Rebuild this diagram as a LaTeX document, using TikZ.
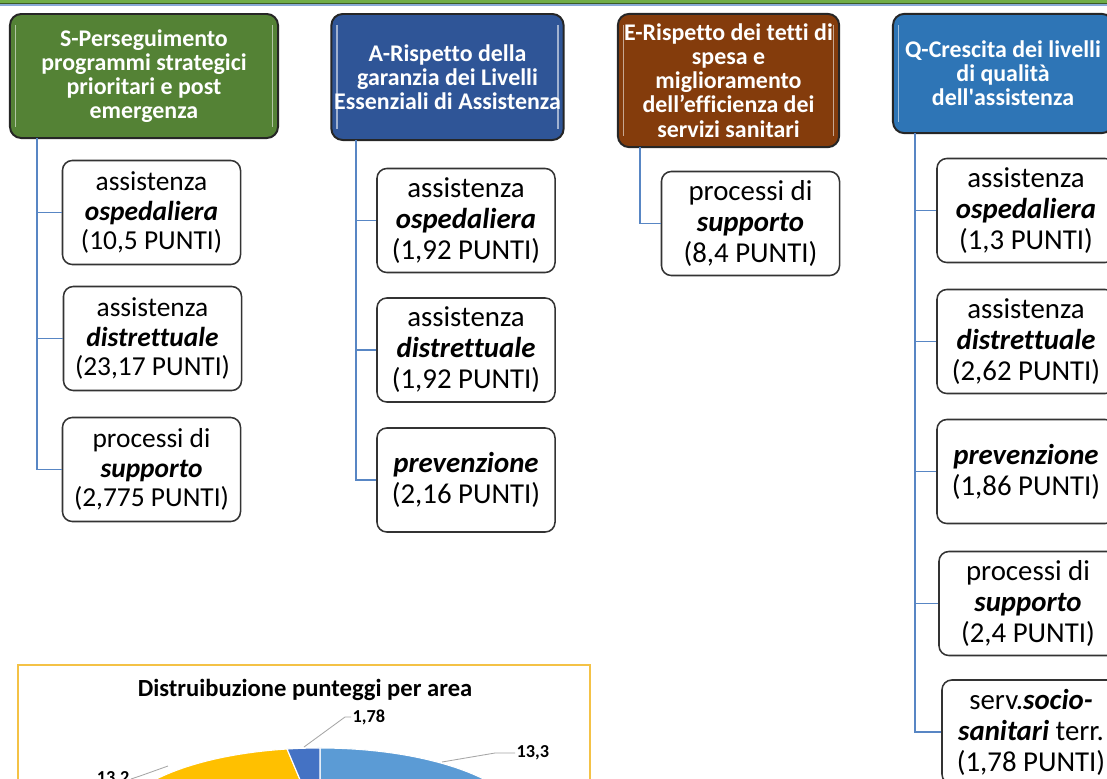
\documentclass[tikz,border=0pt]{standalone}
\usepackage{fontspec}
\setmainfont{Carlito}[Ligatures={NoCommon,NoContextual}, Contextuals={NoAlternate}]
\usetikzlibrary{positioning}

\definecolor{hdgreen}{RGB}{84,130,53}
\definecolor{hdnavy}{RGB}{47,85,151}
\definecolor{hdbrown}{RGB}{132,60,12}
\definecolor{hdblue}{RGB}{46,117,182}
\definecolor{linkblue}{RGB}{88,134,196}
\definecolor{topgreen}{RGB}{112,173,71}
\definecolor{chartgold}{RGB}{244,194,70}
\definecolor{pielight}{RGB}{91,155,213}
\definecolor{piedark}{RGB}{68,114,196}
\definecolor{pieyellow}{RGB}{255,192,0}
\definecolor{leadergray}{RGB}{166,166,166}

\newcommand{\kw}[1]{\textbf{\textit{#1}}}

\tikzset{
  headbox/.style={rectangle, rounded corners=8pt, draw=black!85, line width=1.4pt, text=white,
    font=\fontsize{17}{17.2}\selectfont\bfseries, align=center, inner sep=2pt,
    path picture={
      \draw[white,opacity=0.55,line width=1pt] ([xshift=4pt,yshift=-8pt]path picture bounding box.north west) -- ([xshift=4pt,yshift=8pt]path picture bounding box.south west);
      \draw[white,opacity=0.55,line width=1pt] ([xshift=-4pt,yshift=-8pt]path picture bounding box.north east) -- ([xshift=-4pt,yshift=8pt]path picture bounding box.south east);
    }},
  leafbox/.style={rectangle, rounded corners=7pt, draw=black!80, line width=1.1pt, fill=white, align=center,
    minimum width=4.45cm, minimum height=2.6cm, inner sep=2pt, font=\fontsize{20.5}{22}\selectfont},
  leafsmall/.style={leafbox, font=\fontsize{19.5}{21}\selectfont},
  branch/.style={linkblue, line width=1.4pt},
  leader/.style={leadergray, line width=0.6pt},
  pieslice/.style={draw=white, line width=0.8pt},
}

\begin{document}
\begin{tikzpicture}[x=0.025cm,y=-0.025cm]
\useasboundingbox (0,0) rectangle (1107,778);
\fill[topgreen] (0,0) rectangle (1107,3.5);
\draw[hdgreen!70!black, line width=0.5pt] (0,3.5) -- (1107,3.5);
\draw[linkblue!70, line width=0.8pt] (0,5) -- (1107,5);

% area headers
\node[headbox, fill=hdgreen, minimum width=6.7cm, minimum height=3.1cm] (S) at (144,76) {S-Perseguimento\\programmi strategici\\prioritari e post\\emergenza};
\node[headbox, fill=hdnavy, minimum width=5.78cm, minimum height=3.15cm] (A) at (447.5,77) {A-Rispetto della\\garanzia dei Livelli\\Essenziali di Assistenza};
\node[headbox, fill=hdbrown, minimum width=5.53cm, minimum height=3.33cm] (E) at (728.5,80.5) {E-Rispetto dei tetti di\\spesa e\\miglioramento\\dell’efficienza dei\\servizi sanitari};
\node[headbox, fill=hdblue, minimum width=5.5cm, minimum height=2.98cm] (Q) at (1003,73.5) {Q-Crescita dei livelli\\di qualità\\dell\textquotesingle assistenza};

% S
\node[leafsmall] (s1) at (151.5,212.5) {assistenza\\\kw{ospedaliera}\\(10,5 PUNTI)};
\node[leafsmall] (s2) at (152.5,338.5) {assistenza\\\kw{distrettuale}\\(23,17 PUNTI)};
\node[leafsmall] (s3) at (151.5,469.5) {processi di\\\kw{supporto}\\(2,775 PUNTI)};
\coordinate (Sroot) at (37,138);
\draw[branch] (Sroot) |- (s1.west);
\draw[branch] (Sroot) |- (s2.west);
\draw[branch] (Sroot) |- (s3.west);

% A
\node[leafbox] (a1) at (466,220.5) {assistenza\\\kw{ospedaliera}\\(1,92 PUNTI)};
\node[leafbox] (a2) at (466,350) {assistenza\\\kw{distrettuale}\\(1,92 PUNTI)};
\node[leafbox] (a3) at (466,480) {\kw{prevenzione}\\(2,16 PUNTI)};
\coordinate (Aroot) at (356,140);
\draw[branch] (Aroot) |- (a1.west);
\draw[branch] (Aroot) |- (a2.west);
\draw[branch] (Aroot) |- (a3.west);

% E
\node[leafbox] (e1) at (750.5,223.5) {processi di\\\kw{supporto}\\(8,4 PUNTI)};
\coordinate (Eroot) at (640,147);
\draw[branch] (Eroot) |- (e1.west);

% Q
\node[leafbox] (q1) at (1026,210.5) {assistenza\\\kw{ospedaliera}\\(1,3 PUNTI)};
\node[leafbox] (q2) at (1026,341.5) {assistenza\\\kw{distrettuale}\\(2,62 PUNTI)};
\node[leafbox] (q3) at (1026,471.5) {\kw{prevenzione}\\(1,86 PUNTI)};
\node[leafbox] (q4) at (1028,603.5) {processi di\\\kw{supporto}\\(2,4 PUNTI)};
\node[leafbox] (q5) at (1031,732) {serv.\kw{socio-}\\\kw{sanitari} terr.\\(1,78 PUNTI)};
\coordinate (Qroot) at (915,133);
\draw[branch] (Qroot) |- (q1.west);
\draw[branch] (Qroot) |- (q2.west);
\draw[branch] (Qroot) |- (q3.west);
\draw[branch] (Qroot) |- (q4.west);
\draw[branch] (Qroot) |- (q5.west);

% pie chart
\draw[chartgold, line width=0.8pt, fill=white] (18,665) rectangle (590,800);
\node[font=\fontsize{17.5}{20}\selectfont\bfseries] (charttitle) at (305,690) {Distruibuzione punteggi per area};
\begin{scope}[shift={(320,827)}]
\filldraw[pieslice, fill=pielight] (0,0) -- (90:5.15cm and 1.975cm) arc[start angle=90, end angle=-60, x radius=5.15cm, y radius=1.975cm] -- cycle;
\filldraw[pieslice, fill=pieyellow] (0,0) -- (99.2:5.15cm and 1.975cm) arc[start angle=99.2, end angle=220, x radius=5.15cm, y radius=1.975cm] -- cycle;
\filldraw[pieslice, fill=piedark] (0,0) -- (90:5.15cm and 1.975cm) arc[start angle=90, end angle=99.2, x radius=5.15cm, y radius=1.975cm] -- cycle;
\end{scope}

\node[font=\fontsize{13}{15}\selectfont\bfseries, anchor=west, inner sep=1pt] (l178) at (351,717) {1,78};
\coordinate (p178) at (304,747);
\coordinate (k178) at (345,717);
\draw[leader] (p178) -- (k178) -- (l178.west);

\node[font=\fontsize{13}{15}\selectfont\bfseries, anchor=west, inner sep=1pt] (l133) at (515,753) {13,3};
\coordinate (p133) at (442,762);
\coordinate (k133) at (495,753);
\draw[leader] (p133) -- (k133) -- (l133.west);

\node[font=\fontsize{13}{15}\selectfont\bfseries, anchor=east, inner sep=1pt] (l132) at (131,779) {13,2};
\coordinate (p132) at (168,766);
\coordinate (k132) at (140,776);
\draw[leader] (p132) -- (k132) -- (l132.east);

\end{tikzpicture}
\end{document}
